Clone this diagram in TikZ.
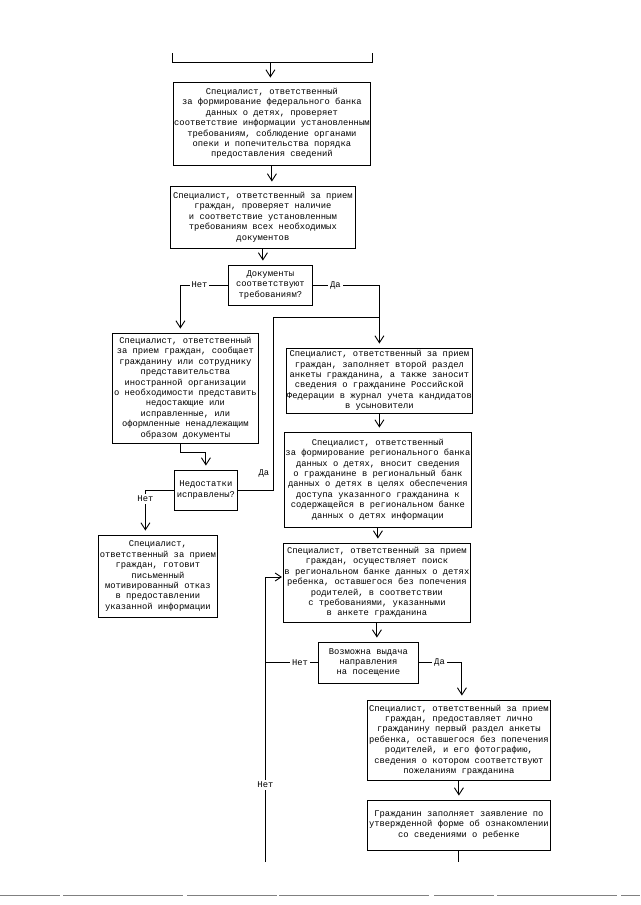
\documentclass[tikz,border=0pt]{standalone}
\usepackage{fontspec}
\newfontfamily\mono{Liberation Mono}
\usetikzlibrary{arrows.meta}
\begin{document}
\begin{tikzpicture}[x=1pt,y=-1pt,
  box/.style={draw, line width=0.9pt, font=\mono\fontsize{8.8}{10.4}\selectfont, align=center, inner sep=1pt},
  ln/.style={line width=0.9pt},
  arr/.style={ln, -{Straight Barb[length=7pt,width=9pt]}, shorten >=4pt},
  lbl/.style={fill=white, font=\mono\fontsize{8.8}{10.4}\selectfont, inner sep=2pt}]
\fill[white] (0,0) rectangle (640,905);

% partial box at top
\draw[ln] (172,53) -- (172,62) -- (372,62) -- (372,53);
\coordinate (top) at (270,62);

\node[box, minimum width=197pt, minimum height=83pt] (b1) at (271.5,123.5)
 {Специалист, ответственный\\за формирование федерального банка\\данных о детях, проверяет\\соответствие информации установленным\\требованиям, соблюдение органами\\опеки и попечительства порядка\\предоставления сведений};

\node[box, minimum width=185pt, minimum height=62pt] (b2) at (262.5,217)
 {Специалист, ответственный за прием\\граждан, проверяет наличие\\и соответствие установленным\\требованиям всех необходимых\\документов};

\node[box, minimum width=84pt, minimum height=40pt] (d1) at (270,285)
 {Документы\\соответствуют\\требованиям?};

\node[box, minimum width=146pt, minimum height=110pt] (bA) at (185,388)
 {Специалист, ответственный\\за прием граждан, сообщает\\гражданину или сотруднику\\представительства\\иностранной организации\\о необходимости представить\\недостающие или\\исправленные, или\\оформленные ненадлежащим\\образом документы};

\node[box, minimum width=186pt, minimum height=65pt] (bB) at (379,380.5)
 {Специалист, ответственный за прием\\граждан, заполняет второй раздел\\анкеты гражданина, а также заносит\\сведения о гражданине Российской\\Федерации в журнал учета кандидатов\\в усыновители};

\node[box, minimum width=63pt, minimum height=40pt] (dC) at (205.5,490)
 {Недостатки\\исправлены?};

\node[box, minimum width=115pt, minimum height=82pt] (bD) at (157.5,576)
 {Специалист,\\ответственный за прием\\граждан, готовит\\письменный\\мотивированный отказ\\в предоставлении\\указанной информации};

\node[box, minimum width=185pt, minimum height=95pt] (bE) at (377.5,479.5)
 {Специалист, ответственный\\за формирование регионального банка\\данных о детях, вносит сведения\\о гражданине в региональный банк\\данных о детях в целях обеспечения\\доступа указанного гражданина к\\содержащейся в региональном банке\\данных о детях информации};

\node[box, minimum width=187pt, minimum height=79pt] (bF) at (376.5,582.5)
 {Специалист, ответственный за прием\\граждан, осуществляет поиск\\в региональном банке данных о детях\\ребенка, оставшегося без попечения\\родителей, в соответствии\\с требованиями, указанными\\в анкете гражданина};

\node[box, minimum width=100pt, minimum height=41pt] (dG) at (368,662.5)
 {Возможна выдача\\направления\\на посещение};

\node[box, minimum width=183pt, minimum height=80pt] (bH) at (458.5,740)
 {Специалист, ответственный за прием\\граждан, предоставляет лично\\гражданину первый раздел анкеты\\ребенка, оставшегося без попечения\\родителей, и его фотографию,\\сведения о котором соответствуют\\пожеланиям гражданина};

\node[box, minimum width=183pt, minimum height=50pt] (bI) at (458.5,825)
 {Гражданин заполняет заявление по\\утвержденной форме об ознакомлении\\со сведениями о ребенке};

% connectors
\draw[arr] (top) -- (top |- b1.north);
\draw[arr] (b1.south) -- (b1.south |- b2.north);
\draw[arr] (b2.south) -- (b2.south |- d1.north);
\draw[arr] (d1.west) -| node[lbl, pos=0.3] (n1) {Нет} ([xshift=-5pt]bA.north);
\draw[arr] (d1.east) -| node[lbl, pos=0.17] (y1) {Да} (bB.north);
\draw[arr] (bB.south) -- (bB.south |- bE.north);
\draw[arr] ([xshift=-5pt]bA.south) -- ++(0,9) -| (dC.north);
\coordinate (j1) at (273,317);
\draw[ln] (dC.east) -| (j1) -- (j1 -| bB.north);
\node[lbl, fill=none, anchor=east] (y2) at (271,473) {Да};
\coordinate (c2) at (145,490);
\draw[arr] (dC.west) -- (c2) -- (c2 |- bD.north);
\node[lbl] (n2) at (145,499) {Нет};
\draw[arr] (bE.south) -- (bE.south |- bF.north);
\draw[arr] (bF.south) -- (bF.south |- dG.north);
\coordinate (lb) at (265,862);
\coordinate (lt) at (265,577);
\draw[ln] (dG.west) -- node[lbl, pos=0.34] (n3) {Нет} (dG.west -| lb);
\draw[ln, -{Straight Barb[length=6pt,width=8pt]}, shorten >=1pt] (lb) -- node[lbl, pos=0.27] (n4) {Нет} (lt) -- (lt -| bF.west);
\draw[arr] (dG.east) -| node[lbl, pos=0.24] (y3) {Да} ([xshift=3pt]bH.north);
\draw[arr] (bH.south) -- (bH.south |- bI.north);
\coordinate (ib) at (bI.south |- lb);
\draw[ln] (bI.south) -- (ib);

% bottom scan edge
\draw[line width=0.8pt, gray, dash pattern=on 60pt off 3pt on 120pt off 4pt on 90pt off 2pt on 150pt off 5pt] (0,895) -- (640,895);
\end{tikzpicture}
\end{document}
